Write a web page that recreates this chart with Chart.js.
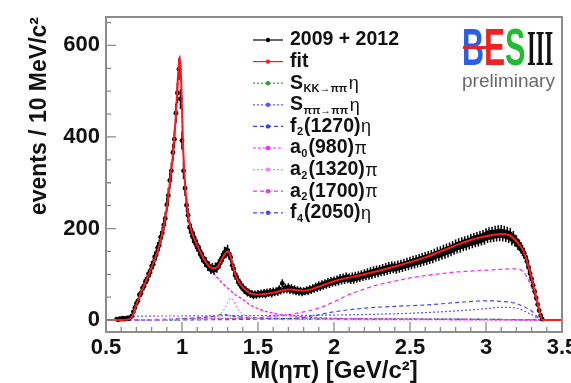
<!DOCTYPE html>
<html><head><meta charset="utf-8">
<script src="https://cdn.jsdelivr.net/npm/chart.js@4"></script>
<style>html,body{margin:0;padding:0;background:#fff;}canvas{display:block;}</style>
</head><body>
<canvas id="c" width="571" height="383"></canvas>
<script>
// ---- DATA ----
const binLow = 0.57, binWidth = 0.01;   // bin centres of the data histogram (GeV/c^2)
const counts = [
  2,1,3,
  2,4,2,3,5,3,6,9,18,27,
  36,42,55,58,70,74,85,88,101,104,
  118,122,138,142,158,163,181,190,208,222,
  252,272,305,326,366,395,452,496,548,483,
  392,326,288,251,229,203,197,182,180,168,
  163,153,150,138,136,127,126,118,117,111,
  114,110,115,114,122,124,135,138,148,147,
  152,143,137,120,112,98,94,83,82,73,
  72,65,66,59,61,56,58,53,57,54,
  58,55,59,56,60,55,61,58,62,57,
  63,60,64,61,68,64,80,66,71,67,
  72,65,70,64,68,62,66,61,65,60,
  64,62,66,63,68,65,70,68,73,70,
  76,72,78,75,80,77,83,79,85,82,
  86,83,88,85,91,87,92,88,94,90,
  92,88,94,89,96,91,97,93,99,95,
  101,97,103,98,105,100,107,102,109,104,
  110,106,112,107,114,109,116,111,117,113,
  117,112,119,114,121,116,123,118,125,120,
  127,122,129,124,131,126,133,128,135,130,
  137,132,139,134,141,136,144,139,147,141,
  149,144,152,146,155,149,157,152,160,155,
  163,158,166,160,168,163,170,165,172,167,
  175,170,177,172,179,174,181,176,183,178,
  187,182,189,183,190,184,192,185,193,186,
  194,185,192,184,190,182,188,176,181,174,
  172,166,163,158,152,146,138,128,115,102,
  90,76,62,48,34,21,10,2
];
const fitX = [0.5,0.6,0.65,0.67,0.69,0.72,0.75,0.8,0.85,0.88,0.9,0.92,0.94,0.96,0.975,0.985,0.995,1.005,1.02,1.04,1.06,1.1,1.15,1.2,1.23,1.26,1.29,1.305,1.32,1.35,1.38,1.42,1.46,1.5,1.6,1.7,1.8,1.9,2.0,2.2,2.4,2.6,2.8,2.9,3.0,3.1,3.15,3.2,3.25,3.3,3.35,3.37,3.5];
const fitY = [0,0,2,6,24,52,75,115,162,205,245,300,362,450,540,575,520,400,295,230,197,163,130,113,115,132,148,150,138,100,80,65,57,56,60,67,64,73,85,100,117,137,163,175,183,188,186,172,148,92,22,0,0];
const a0X = [0.5,0.6,0.67,0.7,0.75,0.8,0.85,0.9,0.94,0.96,0.975,0.985,0.995,1.005,1.02,1.04,1.06,1.1,1.15,1.2,1.25,1.3,1.35,1.4,1.45,1.5,1.6,1.7,1.8,2.0,2.5,3.0,3.37,3.5];
const a0Y = [0,0,5,30,70,110,157,240,355,445,540,578,520,400,290,220,185,150,122,105,86,70,56,45,33,25,15,10,7,4,2,1,0,0];
const a2aX = [0.5,1.1,1.2,1.25,1.28,1.3,1.32,1.34,1.36,1.4,1.45,1.55,1.8,3.37,3.5];
const a2aY = [0,2,5,12,25,38,48,42,28,13,6,2,1,0,0];
const a2bX = [0.5,1.0,1.4,1.6,1.7,1.8,1.9,2.0,2.1,2.2,2.3,2.4,2.5,2.6,2.7,2.8,2.9,3.0,3.1,3.2,3.25,3.3,3.35,3.37,3.5];
const a2bY = [0,2,4,8,12,18,26,40,56,68,78,85,92,97,101,105,107,109,111,112,104,72,25,0,0];
const f4X = [0.5,1.5,1.8,2.0,2.2,2.4,2.6,2.8,3.0,3.1,3.2,3.3,3.37,3.5];
const f4Y = [0,2,6,18,26,30,33,38,42,41,36,20,0,0];
const sppX = [0.5,0.6,0.65,1.0,1.5,2.0,2.5,2.8,3.0,3.1,3.2,3.3,3.37,3.5];
const sppY = [0,0,8,9,10,11,15,20,25,28,26,12,0,0];
const f2X = [0.5,0.6,1.0,1.2,1.27,1.35,1.5,2.0,3.3,3.37,3.5];
const f2Y = [0,0,3,8,12,8,4,2,1,0,0];
const skkX = [0.5,0.99,1.0,1.5,2.0,2.5,3.0,3.37,3.5];
const skkY = [0,0,3,4,3,3,2,0,0];

const xTickValues = [0.5,1,1.5,2,2.5,3,3.5];
const xTickLabels = ['0.5','1','1.5','2','2.5','3','3.5'];
const xMinorTicks = [0.6,0.7,0.8,0.9,1.1,1.2,1.3,1.4,1.6,1.7,1.8,1.9,2.1,2.2,2.3,2.4,2.6,2.7,2.8,2.9,3.1,3.2,3.3,3.4];
const yTickValues = [0,200,400,600];
const yTickLabels = ['0','200','400','600'];
const yMinorTicks = [50,100,150,250,300,350,450,500,550,650];

const legendLabels = [
  {main:'2009 + 2012'},
  {main:'fit'},
  {main:'S', sub:'KK\u2192\u03C0\u03C0', tail:'\u03B7'},
  {main:'S', sub:'\u03C0\u03C0\u2192\u03C0\u03C0', tail:'\u03B7'},
  {main:'f', sub:'2', rest:'(1270)', tail:'\u03B7'},
  {main:'a', sub:'0', rest:'(980)', tail:'\u03C0'},
  {main:'a', sub:'2', rest:'(1320)', tail:'\u03C0'},
  {main:'a', sub:'2', rest:'(1700)', tail:'\u03C0'},
  {main:'f', sub:'4', rest:'(2050)', tail:'\u03B7'}
];

// ---- BUILD ----
const FONT = '"Liberation Sans", Arial, sans-serif';
const dataPts = counts.map((c,i)=>({x: +(binLow + i*binWidth).toFixed(3), y: c}));
const zip = (xs,ys)=>xs.map((x,i)=>({x, y: ys[i]}));

const styles = [
  {color:'#000000', dash:[], width:1},          // data
  {color:'#ff1a1a', dash:[], width:2},          // fit
  {color:'#33a033', dash:[2,2], width:1.2},     // S KK
  {color:'#5a5aff', dash:[2,2], width:1.2},     // S pipi
  {color:'#3a3aff', dash:[4,3], width:1.2},     // f2
  {color:'#ff22ff', dash:[3,2], width:1.4},     // a0
  {color:'#ff77ff', dash:[2,2], width:1.2},     // a2 1320
  {color:'#ee33ee', dash:[4,3], width:1.3},     // a2 1700
  {color:'#4444ff', dash:[4,3], width:1.2}      // f4
];

function comp(label, pts, st, order){
  return {label, data: pts, showLine:true, borderColor: st.color, borderDash: st.dash,
    borderWidth: st.width, pointRadius:0, tension:0.4, cubicInterpolationMode:'monotone', order};
}

const datasets = [
  {label:'2009 + 2012', data:dataPts, showLine:false, pointRadius:2.4, pointBackgroundColor:'#000',
    pointBorderColor:'#000', pointBorderWidth:0, order:1},
  comp('fit', zip(fitX,fitY), styles[1], 0),
  comp('S KK', zip(skkX,skkY), styles[2], 9),
  comp('S pipi', zip(sppX,sppY), styles[3], 8),
  comp('f2(1270)', zip(f2X,f2Y), styles[4], 7),
  comp('a0(980)', zip(a0X,a0Y), styles[5], 3),
  comp('a2(1320)', zip(a2aX,a2aY), styles[6], 4),
  comp('a2(1700)', zip(a2bX,a2bY), styles[7], 5),
  comp('f4(2050)', zip(f4X,f4Y), styles[8], 6)
];

const decor = {
  id:'decor',
  afterDatasetDraw(chart, args){
    if (args.index !== 0) return;
    const ctx = chart.ctx, xs = chart.scales.x, ys = chart.scales.y;
    ctx.save();
    ctx.strokeStyle = '#000'; ctx.lineWidth = 1.5;
    ctx.beginPath();
    counts.forEach((c,i)=>{
      const x = xs.getPixelForValue(binLow + i*binWidth);
      const e = Math.sqrt(Math.max(c,1));
      ctx.moveTo(x, ys.getPixelForValue(c - e));
      ctx.lineTo(x, ys.getPixelForValue(c + e));
    });
    ctx.stroke();
    ctx.restore();
  },
  afterDraw(chart){
    const ctx = chart.ctx, a = chart.chartArea, xs = chart.scales.x, ys = chart.scales.y;
    ctx.save();
    // frame
    ctx.strokeStyle = '#8c8c8c'; ctx.lineWidth = 2;
    ctx.strokeRect(a.left, a.top, a.right - a.left, a.bottom - a.top);
    // ticks (inward)
    ctx.lineWidth = 1.3; ctx.strokeStyle = '#8c8c8c';
    ctx.beginPath();
    xTickValues.forEach(v=>{ const x = xs.getPixelForValue(v); ctx.moveTo(x, a.bottom); ctx.lineTo(x, a.bottom - 10); });
    xMinorTicks.forEach(v=>{ const x = xs.getPixelForValue(v); ctx.moveTo(x, a.bottom); ctx.lineTo(x, a.bottom - 5); });
    yTickValues.forEach(v=>{ const y = ys.getPixelForValue(v); ctx.moveTo(a.left, y); ctx.lineTo(a.left + 10, y); });
    yMinorTicks.forEach(v=>{ const y = ys.getPixelForValue(v); ctx.moveTo(a.left, y); ctx.lineTo(a.left + 5, y); });
    ctx.stroke();

    // legend
    const top = 40, rowH = 21.6, mx0 = 253, mx1 = 283, tx = 290;
    legendLabels.forEach((lab, i)=>{
      const y = top + i*rowH, st = styles[i];
      ctx.strokeStyle = st.color; ctx.lineWidth = 1.2;
      ctx.setLineDash(st.dash);
      ctx.beginPath(); ctx.moveTo(mx0, y); ctx.lineTo(mx1, y); ctx.stroke();
      ctx.setLineDash([]);
      ctx.fillStyle = st.color;
      ctx.beginPath(); ctx.arc((mx0+mx1)/2, y, 2.2, 0, Math.PI*2); ctx.fill();
      ctx.fillStyle = '#111'; ctx.textBaseline = 'middle'; ctx.textAlign = 'left';
      ctx.font = 'bold 19.5px ' + FONT;
      let x = tx;
      ctx.fillText(lab.main, x, y); x += ctx.measureText(lab.main).width + 0.5;
      if (lab.sub){
        ctx.font = 'bold 11px ' + FONT;
        ctx.fillText(lab.sub, x, y + 6); x += ctx.measureText(lab.sub).width + 1;
      }
      if (lab.rest){
        ctx.font = 'bold 19.5px ' + FONT;
        ctx.fillText(lab.rest, x, y); x += ctx.measureText(lab.rest).width;
      }
      if (lab.tail){
        ctx.font = '18px ' + FONT;
        ctx.fillText(lab.tail, x + 0.5, y + 1);
      }
    });

    // BESIII logo
    ctx.textBaseline = 'alphabetic';
    const base = 65;
    const letter = (t, x, sx, color, font) => {
      ctx.save(); ctx.translate(x, base); ctx.scale(sx, 1);
      ctx.fillStyle = color; ctx.font = font; ctx.fillText(t, 0, 0); ctx.restore();
    };
    letter('B', 462, 0.6, '#2a5ee8', 'bold 51px ' + FONT);
    letter('E', 484, 0.62, '#ee2222', 'bold 51px ' + FONT);
    letter('S', 505, 0.6, '#22bb33', 'bold 51px ' + FONT);
    letter('III', 527, 0.44, '#111', 'bold 51px "Liberation Serif", serif');
    ctx.strokeStyle = '#ee2222'; ctx.lineWidth = 3;
    ctx.beginPath(); ctx.moveTo(463, 47.5); ctx.lineTo(488, 47.5); ctx.stroke();
    ctx.fillStyle = '#6a6a6a'; ctx.font = '19px ' + FONT;
    ctx.fillText('preliminary', 462, 87);
    ctx.restore();
  }
};

new Chart(document.getElementById('c'), {
  type:'scatter',
  data:{datasets},
  options:{
    responsive:false, animation:false, devicePixelRatio:1,
    layout:{padding:{left:0, right:9, top:17, bottom:0}},
    plugins:{legend:{display:false}, tooltip:{enabled:false}},
    scales:{
      x:{type:'linear', min:0.5, max:3.5,
        grid:{display:false, drawTicks:false}, border:{display:false},
        afterBuildTicks:s=>{ s.ticks = xTickValues.map(v=>({value:v})); },
        afterFit:s=>{ s.height = 51; s.paddingLeft = 0; s.paddingRight = 0; },
        ticks:{autoSkip:false, maxRotation:0, padding:3, color:'#111',
          font:{family:FONT, size:22, weight:'bold'}, callback:(v,i)=>xTickLabels[i]},
        title:{display:true, text:'M(\u03B7\u03C0) [GeV/c\u00B2]', color:'#111',
          font:{family:FONT, size:24, weight:'bold'}, padding:{top:0, bottom:-3}}
      },
      y:{type:'linear', min:-26, max:662,
        grid:{display:false, drawTicks:false}, border:{display:false},
        afterBuildTicks:s=>{ s.ticks = yTickValues.map(v=>({value:v})); },
        afterFit:s=>{ s.width = 106; s.paddingTop = 0; s.paddingBottom = 0; },
        ticks:{autoSkip:false, padding:6, color:'#111',
          font:{family:FONT, size:22, weight:'bold'}, callback:(v,i)=>yTickLabels[i]},
        title:{display:true, text:'events / 10 MeV/c\u00B2', align:'end', color:'#111',
          font:{family:FONT, size:23, weight:'bold'}, padding:{top:26, bottom:0}}
      }
    }
  },
  plugins:[decor]
});
</script>
</body></html>
